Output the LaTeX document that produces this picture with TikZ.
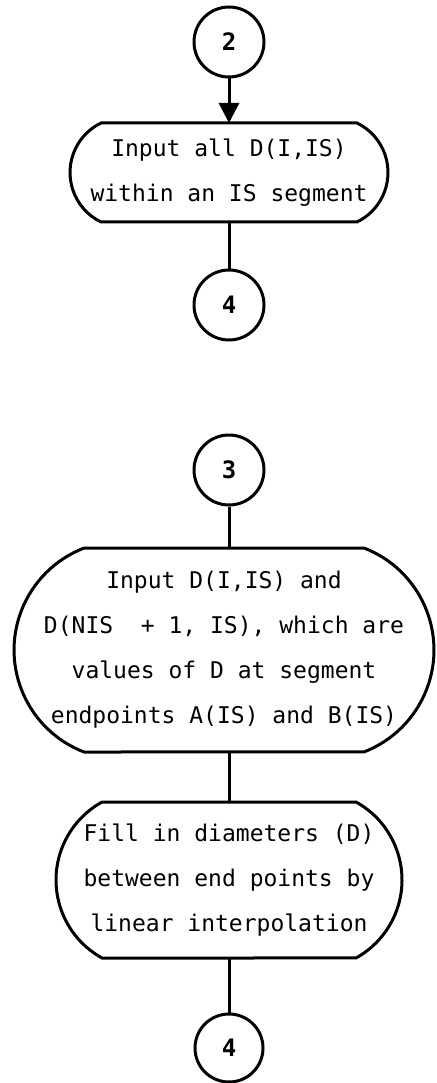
\documentclass[tikz,border=0pt]{standalone}
\usepackage{fontspec}
\setmonofont{DejaVu Sans Mono}
\usetikzlibrary{arrows.meta}
\newcommand\termoutline[4]{%
  \draw[outline] ([xshift=#2pt]#1.north west) -- ([xshift=-#2pt]#1.north east)
    arc[start angle=#4, end angle=-#4, radius=#3pt]
    -- ([xshift=#2pt]#1.south west)
    arc[start angle=180+#4, end angle=180-#4, radius=#3pt] -- cycle;}
\begin{document}
\frenchspacing
\begin{tikzpicture}[x=1pt,y=1pt,
  conn/.style={line width=3pt},
  conncirc/.style={circle, draw, line width=3pt, minimum size=70pt, inner sep=0pt,
    font=\ttfamily\bfseries\fontsize{24}{24}\selectfont},
  boxtext/.style={rectangle, inner sep=0pt, outer sep=0pt, align=center,
    font=\ttfamily\fontsize{23}{45}\selectfont},
  outline/.style={line width=3pt, line join=round}]
\useasboundingbox (0,0) rectangle (436,-1083);

% upper flow
\node[conncirc] (c2) at (229,-42) {2};
\node[boxtext, minimum width=318pt, minimum height=99pt] (b1) at (229,-172.5)
  {Input all D(I,IS)\\within an IS segment};
\node[conncirc] (c4a) at (229,-305) {4};
\termoutline{b1}{31}{55.02}{64.1}

% lower flow
\node[conncirc] (c3) at (229,-470) {3};
\node[boxtext, minimum width=420pt, minimum height=204pt] (b2) at (224,-650)
  {Input D(I,IS) and\\D(NIS~~+ 1, IS), which are\\values of D at segment\\endpoints A(IS) and B(IS)};
\node[boxtext, minimum width=346pt, minimum height=156pt] (b3) at (229,-880)
  {Fill in diameters (D)\\between end points by\\linear interpolation};
\node[conncirc, minimum size=68pt] (c4b) at (229,-1048) {4};
\termoutline{b2}{70}{109.3}{68.9}
\termoutline{b3}{46}{89.13}{61.05}

% connectors
\draw[conn,-{Triangle[width=20pt,length=20pt]}] (c2) -- (b1);
\draw[conn] (b1) -- (c4a);
\draw[conn] (c3) -- (c3 |- b2.north);
\draw[conn] (b2.south -| b3) -- (b3);
\draw[conn] (b3) -- (c4b);
\end{tikzpicture}
\end{document}
